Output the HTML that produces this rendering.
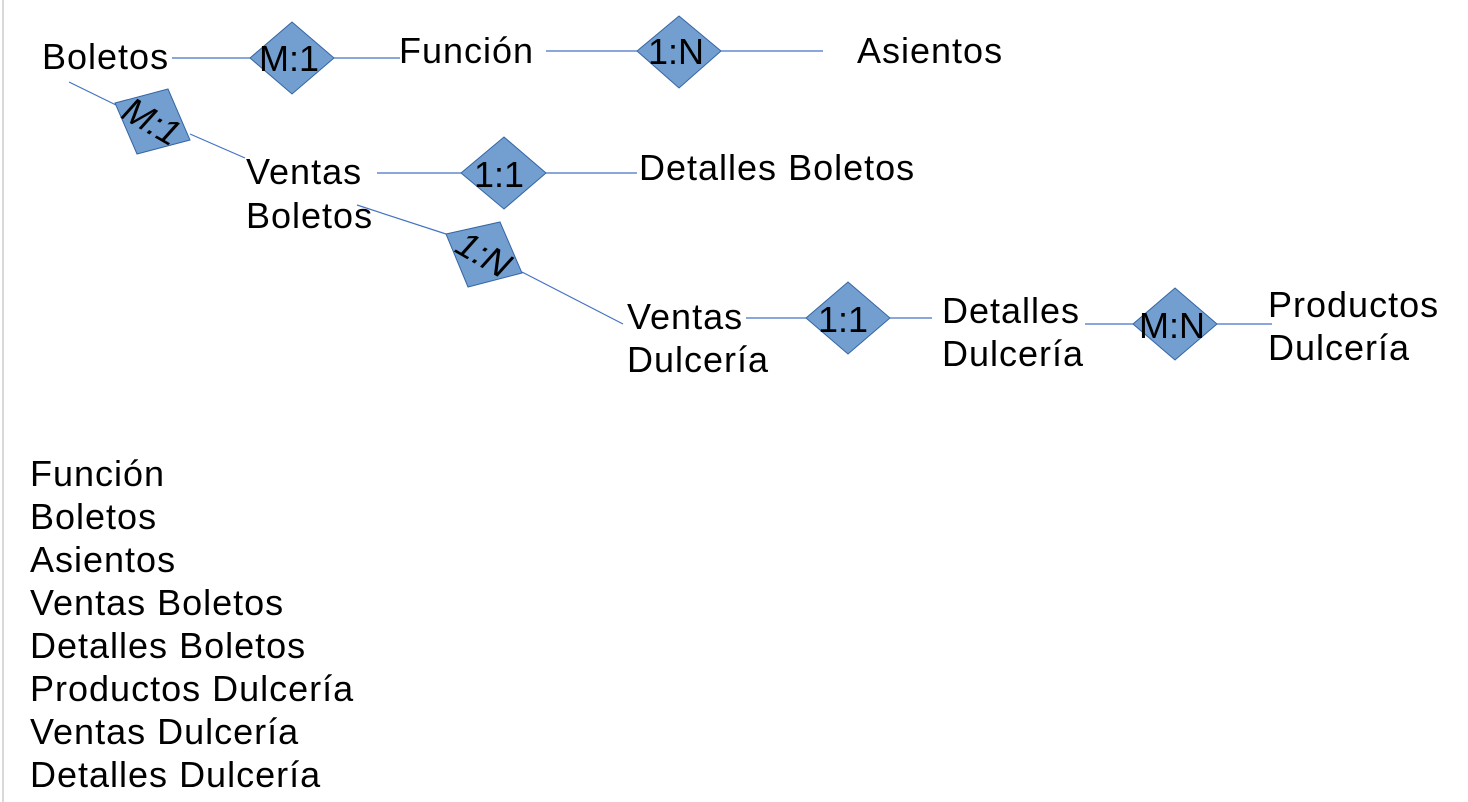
<!DOCTYPE html>
<html><head><meta charset="utf-8"><style>
html,body{margin:0;padding:0;background:#fff;width:1468px;height:802px;overflow:hidden}
svg text{font-family:"Liberation Sans",Arial,sans-serif;fill:#000}
</style></head><body>
<svg width="1468" height="802" viewBox="0 0 1468 802" xmlns="http://www.w3.org/2000/svg">
<line x1="3" y1="0" x2="3" y2="802" stroke="#d9d9d9" stroke-width="2"/>
<g stroke="#4472c4" stroke-width="1.2">
<line x1="172" y1="58" x2="250" y2="58"/>
<line x1="334" y1="58" x2="400" y2="58"/>
<line x1="546" y1="51" x2="637" y2="51"/>
<line x1="721" y1="51" x2="823" y2="51"/>
<line x1="377" y1="173" x2="461" y2="173"/>
<line x1="546" y1="173" x2="637" y2="173"/>
<line x1="746" y1="318" x2="806" y2="318"/>
<line x1="890" y1="318" x2="932" y2="318"/>
<line x1="1085" y1="324" x2="1133" y2="324"/>
<line x1="1217" y1="324" x2="1272" y2="324"/>
<line x1="69" y1="82" x2="116" y2="105"/>
<line x1="190" y1="134" x2="245" y2="158"/>
<line x1="357" y1="205" x2="446" y2="234"/>
<line x1="522" y1="272" x2="623" y2="324"/>
</g>
<g fill="#729fcf" stroke="#3465a4" stroke-width="1">
<polygon points="292,22 334,58 292,94 250,58"/>
<polygon points="679,16 721,51 679,88 637,51"/>
<polygon points="504,137 546,173 504,209 461,173"/>
<polygon points="848,282 890,318 848,354 806,318"/>
<polygon points="1175,288 1217,324 1175,360 1133,324"/>
<polygon points="115,103 168,89 190,140 137,154"/>
<polygon points="446,234 500,222 522,273 468,287"/>
</g>
<g font-size="36">
<text x="259" y="71">M:1</text>
<text x="648" y="64">1:N</text>
<text x="474" y="187">1:1</text>
<text x="818" y="332">1:1</text>
<text x="1139" y="338">M:N</text>
<text transform="translate(152,122) rotate(30) skewX(-12)" text-anchor="middle" y="12">M:1</text>
<text transform="translate(484,255) rotate(30) skewX(-12)" text-anchor="middle" y="12">1:N</text>
</g>
<g font-size="36" letter-spacing="1">
<text x="42" y="69">Boletos</text>
<text x="399" y="63">Función</text>
<text x="857" y="63">Asientos</text>
<text x="246" y="184">Ventas</text>
<text x="246" y="228">Boletos</text>
<text x="639" y="180">Detalles Boletos</text>
<text x="627" y="329">Ventas</text>
<text x="627" y="372">Dulcería</text>
<text x="942" y="323">Detalles</text>
<text x="942" y="366">Dulcería</text>
<text x="1268" y="317">Productos</text>
<text x="1268" y="360">Dulcería</text>
<text x="30" y="486">Función</text>
<text x="30" y="529">Boletos</text>
<text x="30" y="572">Asientos</text>
<text x="30" y="615">Ventas Boletos</text>
<text x="30" y="658">Detalles Boletos</text>
<text x="30" y="701">Productos Dulcería</text>
<text x="30" y="744">Ventas Dulcería</text>
<text x="30" y="787">Detalles Dulcería</text>
</g>
</svg>
</body></html>
